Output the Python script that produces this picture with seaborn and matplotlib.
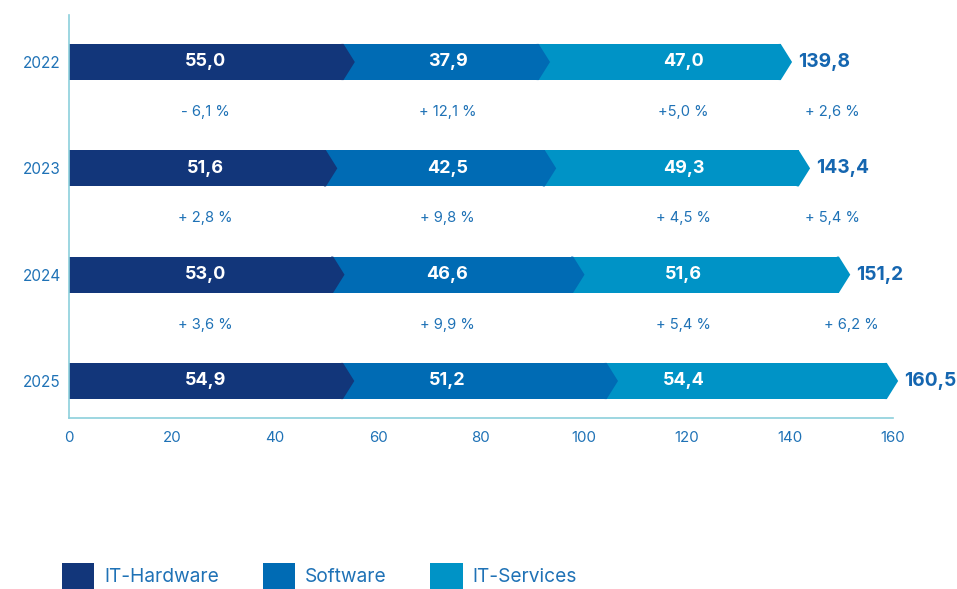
import numpy as np
import pandas as pd
import matplotlib.pyplot as plt
import seaborn as sns
from matplotlib.patches import Patch

years = ['2022', '2023', '2024', '2025']
hardware = [55.0, 51.6, 53.0, 54.9]
software = [37.9, 42.5, 46.6, 51.2]
services = [47.0, 49.3, 51.6, 54.4]
totals = [139.8, 143.4, 151.2, 160.5]
segment_names = ['IT-Hardware', 'Software', 'IT-Services']

# growth rates shown between the rows (hardware, software, services, total)
growth = [
    ['- 6,1 %', '+ 12,1 %', '+5,0 %', '+ 2,6 %'],
    ['+ 2,8 %', '+ 9,8 %', '+ 4,5 %', '+ 5,4 %'],
    ['+ 3,6 %', '+ 9,9 %', '+ 5,4 %', '+ 6,2 %'],
]

colors = ['#12367a', '#006bb4', '#0093c6']
text_blue = '#1f72b6'
total_blue = '#1566b0'
axis_col = '#8ccfdc'

# layout constants
label_cols = [26.5, 73.5, 119.3]
total_growth_x = [148.3, 148.3, 152.0]
bar_h = 0.34
shoulder = 1.7   # rect ends this far before the value
tip = 0.5        # chevron point this far past the value


def fmt(v):
    return '{:.1f}'.format(v).replace('.', ',')


def main():
    sns.set_style('white')
    plt.rcParams['font.family'] = ['Inter', 'DejaVu Sans']

    fig = plt.figure(figsize=(9.57, 5.89), dpi=100)
    ax = fig.add_axes([69 / 957, 1 - 418 / 589, 824 / 957, 403 / 589])

    seg = np.array([hardware, software, services])
    cum = seg.cumsum(axis=0)

    # draw cumulative bars from largest to smallest
    for j in [2, 1, 0]:
        df = pd.DataFrame({'year': years, 'val': cum[j] - shoulder})
        sns.barplot(data=df, y='year', x='val', order=years, orient='h',
                    color=colors[j], width=bar_h, linewidth=0,
                    saturation=1, ax=ax)

    # chevron points (slightly overlapping the bar end to hide the seam)
    for i in range(len(years)):
        for j in range(3):
            v = cum[j][i]
            x0 = v - shoulder
            ax.fill([x0 - 0.4, x0, v + tip, x0, x0 - 0.4],
                    [i - bar_h / 2, i - bar_h / 2, i, i + bar_h / 2, i + bar_h / 2],
                    facecolor=colors[j], edgecolor='none', lw=0, zorder=3,
                    clip_on=False)
            ax.text(label_cols[j], i, fmt(seg[j][i]), color='white',
                    fontsize=13, fontweight='bold', ha='center', va='center',
                    zorder=4)
        ax.text(totals[i] + tip + 1.2, i, fmt(totals[i]), color=total_blue,
                fontsize=13.8, fontweight='bold', ha='left', va='center',
                clip_on=False)

    for i, row in enumerate(growth):
        xs = label_cols + [total_growth_x[i]]
        for x, s in zip(xs, row):
            ax.text(x, i + 0.47, s, color=text_blue, fontsize=10.6,
                    ha='center', va='center')

    ax.set_xlim(0, 160)
    ax.set_ylim(3.348, -0.442)
    ax.set_xticks(range(0, 161, 20))
    ax.set_xlabel('')
    ax.set_ylabel('')
    ax.tick_params(axis='x', direction='in', length=11, width=1.2,
                   color=axis_col, labelcolor=text_blue, labelsize=10.8, pad=9)
    ax.tick_params(axis='y', length=0, labelcolor=text_blue, labelsize=11,
                   pad=6)
    for s in ['top', 'right']:
        ax.spines[s].set_visible(False)
    for s in ['left', 'bottom']:
        ax.spines[s].set_color(axis_col)
        ax.spines[s].set_linewidth(1.2)

    handles = [Patch(facecolor=c, edgecolor='none') for c in colors]
    fig.legend(handles, segment_names, loc='center left',
               bbox_to_anchor=(62 / 957, 1 - 576 / 589), ncol=3,
               frameon=False, fontsize=13.8, labelcolor=text_blue,
               handlelength=1.67, handleheight=1.75, handletextpad=0.52,
               columnspacing=2.3, borderpad=0, borderaxespad=0)

    plt.savefig('out.png', dpi=100)


if __name__ == '__main__':
    main()
